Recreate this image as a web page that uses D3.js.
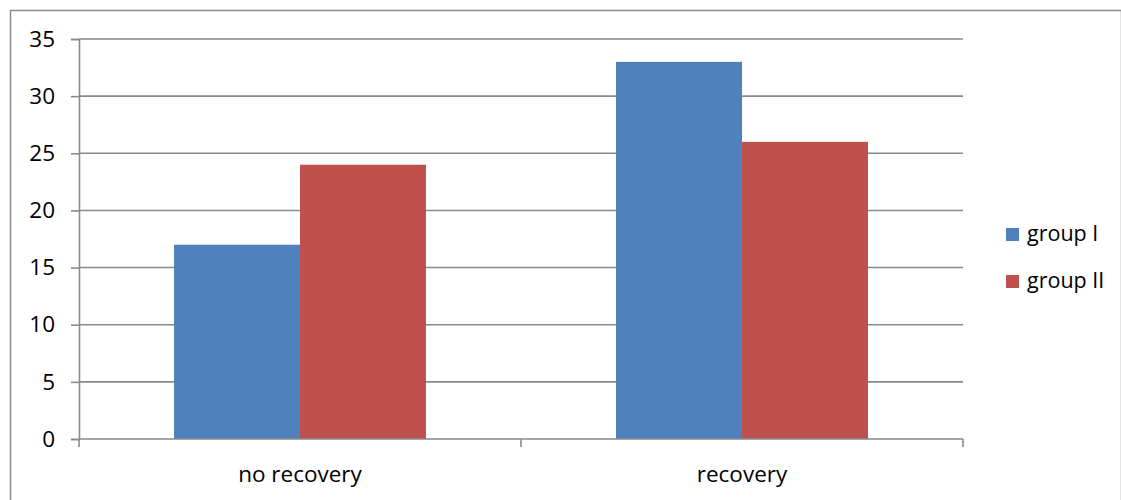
<!DOCTYPE html>
<html>
<head>
<meta charset="utf-8">
<script src="https://cdn.jsdelivr.net/npm/d3@7"></script>
<style>
  html, body { margin: 0; padding: 0; background: #fff; }
  svg { display: block; }
  text { font-family: "Open Sans", sans-serif; fill: #000; }
</style>
</head>
<body>
<svg id="chart" width="1121" height="500"></svg>
<script>
const categories = ["no recovery", "recovery"];
const seriesNames = ["group I", "group II"];
const groupI = [17, 33];
const groupII = [24, 26];
const yTicks = [0, 5, 10, 15, 20, 25, 30, 35];
const colors = ["#4F81BD", "#C0504D"];

const svg = d3.select("#chart");
const W = 1121, H = 500;
const plot = { left: 79, right: 963, top: 39, bottom: 439 };
const FONT = "'Open Sans', sans-serif";
const FS_AXIS = "22.5px";
const FS_LEG = "21.5px";

// outer frame
svg.append("rect")
  .attr("x", 10.5).attr("y", 10.5)
  .attr("width", W - 10).attr("height", H)
  .attr("fill", "none").attr("stroke", "#8c8c8c").attr("stroke-width", 1.5);

const x0 = d3.scaleBand().domain(categories).range([plot.left, plot.right]).paddingInner(0).paddingOuter(0);
const inner = 0.57;
const x1 = d3.scaleBand().domain(seriesNames)
  .range([x0.bandwidth() * (1 - inner) / 2, x0.bandwidth() * (1 + inner) / 2]);
const y = d3.scaleLinear().domain([0, 35]).range([plot.bottom, plot.top]);

// horizontal gridlines
svg.append("g").selectAll("line").data(yTicks.filter(d => d > 0)).join("line")
  .attr("x1", plot.left).attr("x2", plot.right)
  .attr("y1", d => y(d)).attr("y2", d => y(d))
  .attr("stroke", "#8a8a8a").attr("stroke-width", 1.6);

// bars
const rows = categories.map((c, i) => ({ cat: c, vals: [groupI[i], groupII[i]] }));
const g = svg.append("g");
rows.forEach(r => {
  r.vals.forEach((v, j) => {
    g.append("rect")
      .attr("x", x0(r.cat) + x1(seriesNames[j]))
      .attr("y", y(v))
      .attr("width", x1.bandwidth())
      .attr("height", y(0) - y(v))
      .attr("fill", colors[j]);
  });
});

// y axis
const yAxis = d3.axisLeft(y).tickValues(yTicks).tickSize(8).tickPadding(16).tickFormat(d3.format("d"));
const ya = svg.append("g").attr("transform", `translate(${plot.left},0)`).call(yAxis);
ya.select(".domain").attr("stroke", "#8a8a8a").attr("stroke-width", 1.6);
ya.selectAll(".tick line").attr("stroke", "#8a8a8a").attr("stroke-width", 1.6);
ya.selectAll(".tick text").style("font-size", FS_AXIS).style("font-family", FONT).attr("fill", "#000");

// x axis
const xa = svg.append("g").attr("transform", `translate(0,${plot.bottom})`)
  .call(d3.axisBottom(x0).tickSize(0).tickPadding(27));
xa.select(".domain").remove();
xa.append("line").attr("x1", plot.left).attr("x2", plot.right).attr("y1", 0).attr("y2", 0)
  .attr("stroke", "#8a8a8a").attr("stroke-width", 1.6);
const bounds = [plot.left, ...categories.map(c => x0(c) + x0.bandwidth())];
xa.selectAll(".cat-tick").data(bounds).join("line").attr("class", "cat-tick")
  .attr("x1", d => d).attr("x2", d => d).attr("y1", 0).attr("y2", 8)
  .attr("stroke", "#8a8a8a").attr("stroke-width", 1.6);
xa.selectAll(".tick text").style("font-size", FS_AXIS).style("font-family", FONT).attr("fill", "#000");

// legend
const leg = svg.append("g").attr("transform", "translate(1006,228)");
seriesNames.forEach((n, i) => {
  const row = leg.append("g").attr("transform", `translate(0,${i * 47})`);
  row.append("rect").attr("width", 13).attr("height", 13).attr("fill", colors[i]);
  row.append("text").attr("x", 21).attr("y", 13)
    .style("font-size", FS_LEG).style("font-family", FONT).text(n);
});
</script>
</body>
</html>
